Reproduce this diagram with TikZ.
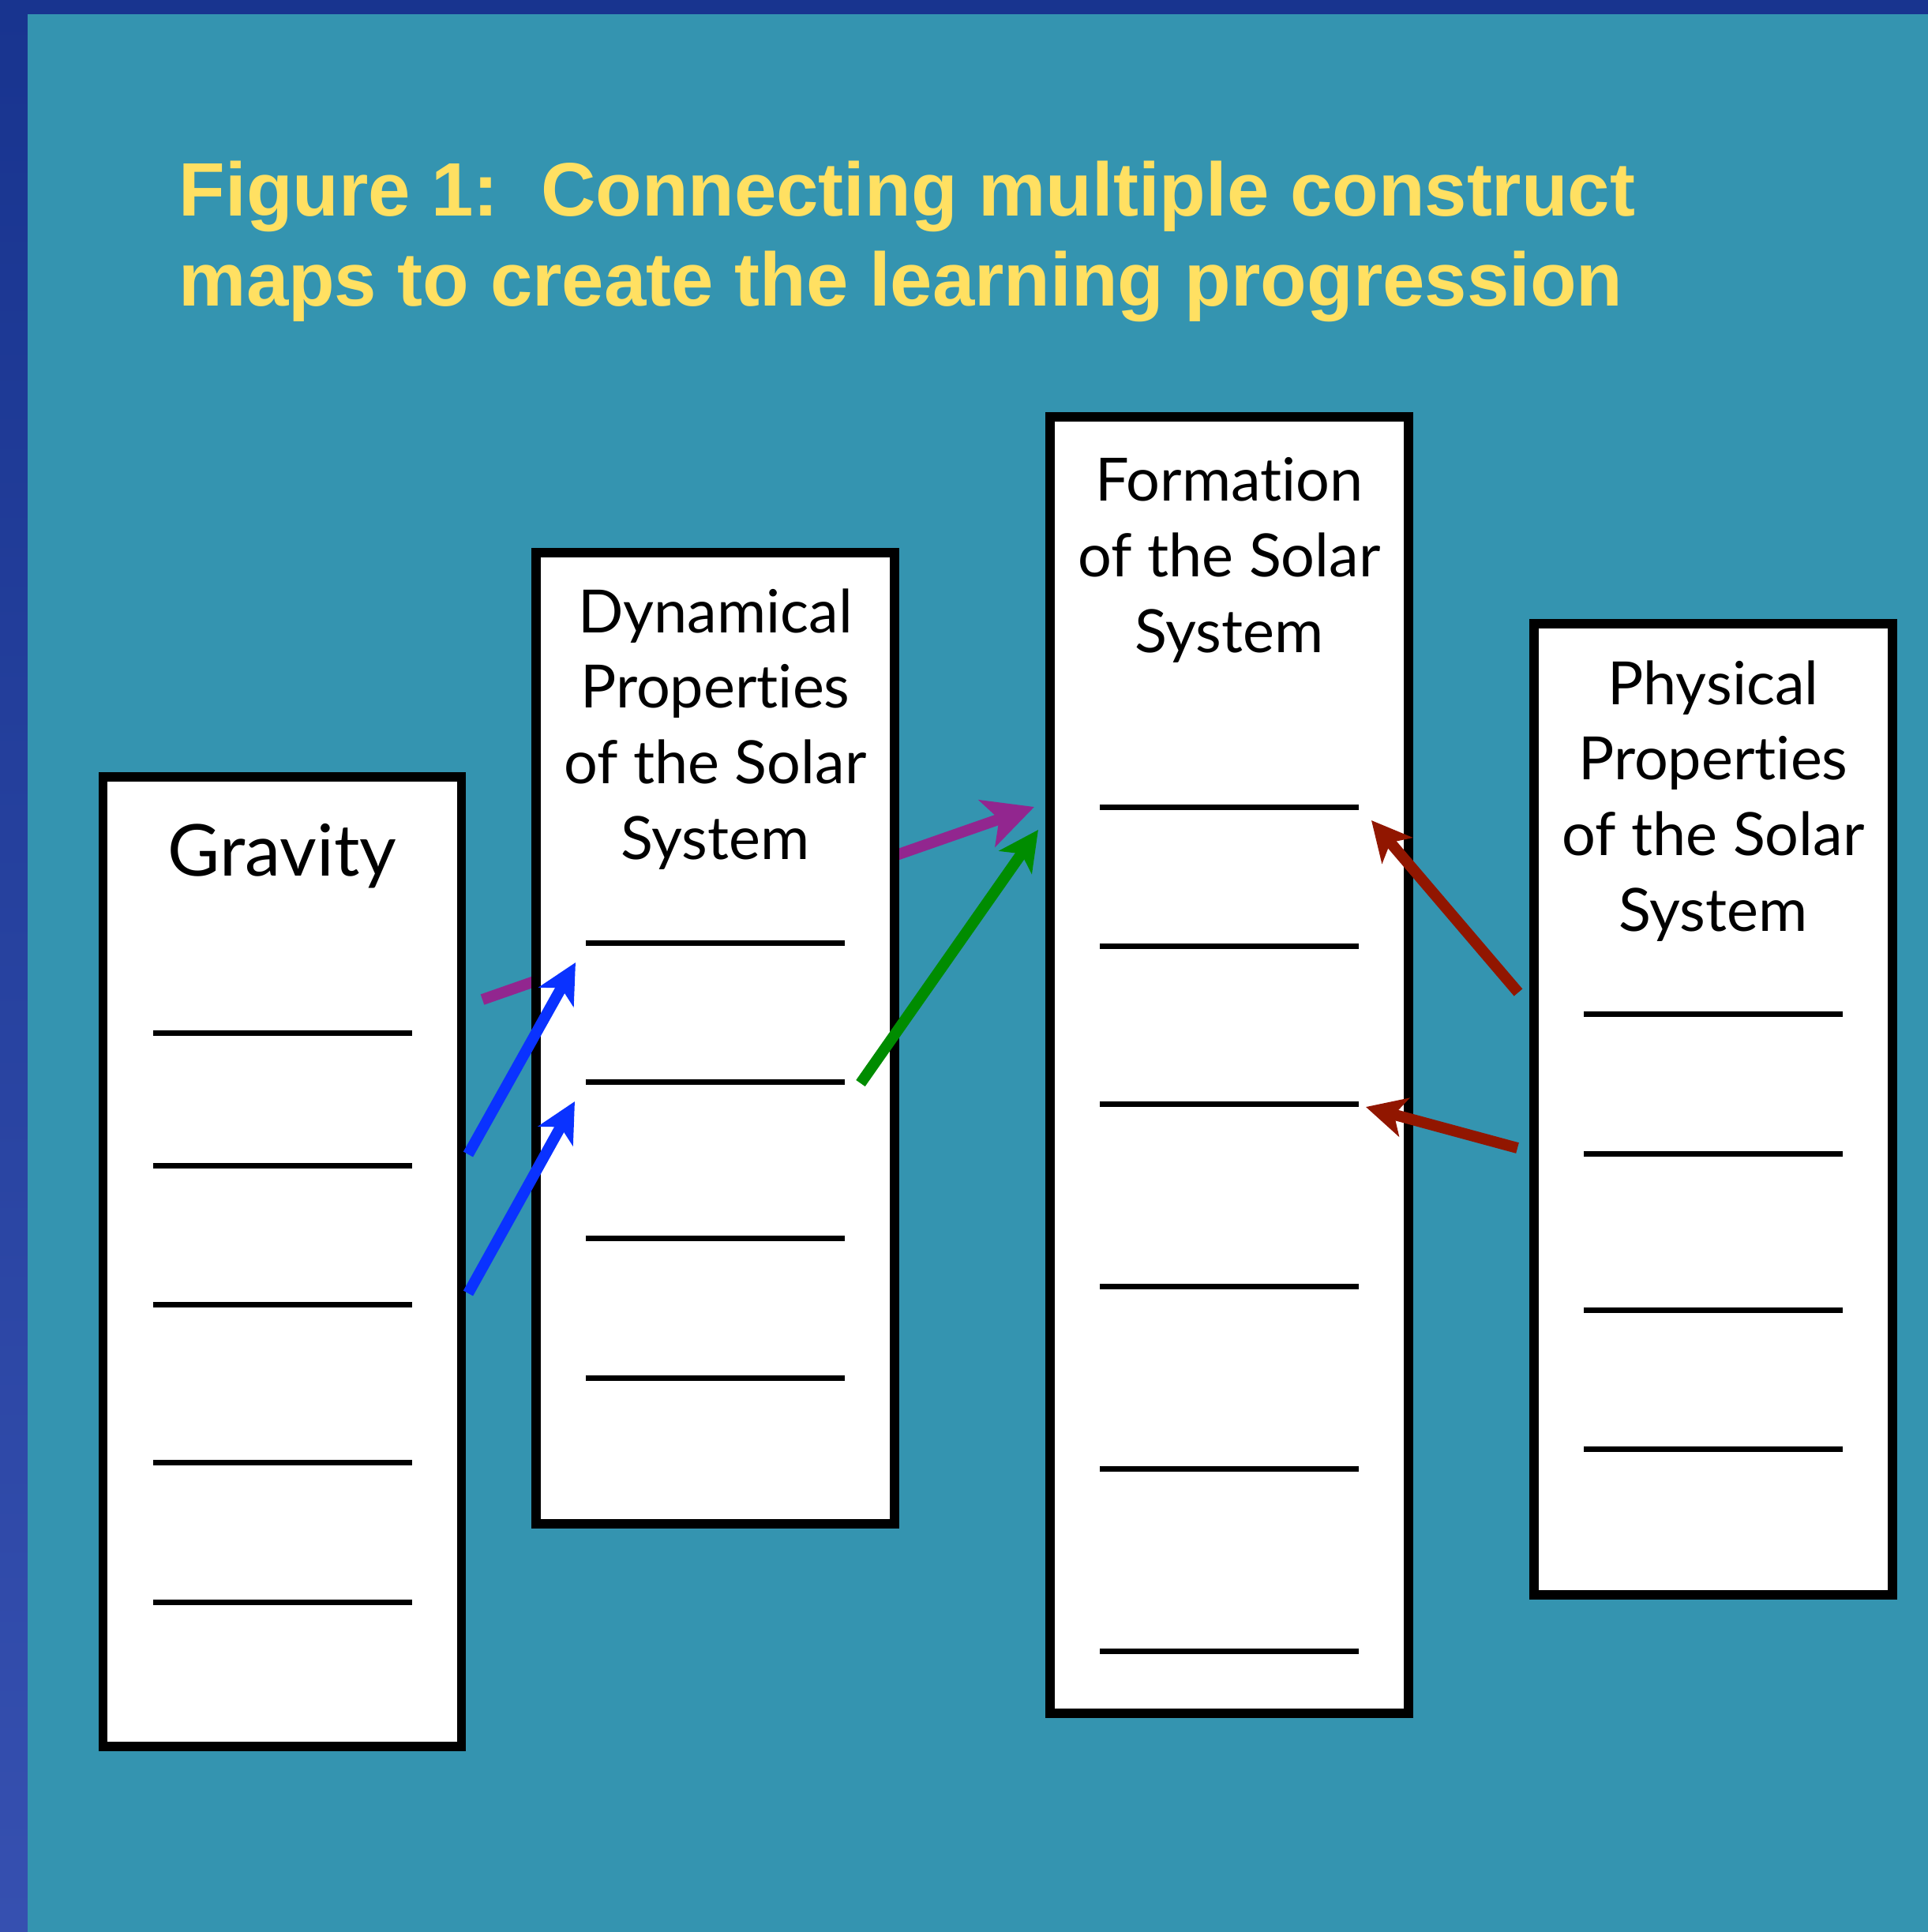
\documentclass[tikz,border=0pt]{standalone}
\usepackage{fontspec}
\usepackage{tikz}
\usetikzlibrary{positioning,arrows.meta}

\newfontfamily\mapfont{Lato}[Ligatures=NoCommon]
\newfontfamily\headfont{Liberation Sans}

\definecolor{panelteal}{RGB}{52,148,176}
\definecolor{frametop}{RGB}{24,52,143}
\definecolor{framebot}{RGB}{54,80,176}
\definecolor{headyellow}{RGB}{255,224,98}
\definecolor{linkblue}{RGB}{10,50,255}
\definecolor{linkpurple}{RGB}{146,38,143}
\definecolor{linkgreen}{RGB}{0,140,0}
\definecolor{linkred}{RGB}{145,22,0}

\tikzset{
  cmap/.style={draw=black, fill=white, line width=0.115cm, minimum width=4.54cm,
    inner sep=0pt, outer sep=0pt},
  cmaptitle/.style={inner sep=0pt, align=center,
    font=\mapfont\fontsize{21.5}{27.2}\selectfont},
  level/.style={line width=0.07cm},
  link/.style={line width=0.14cm, -{Stealth[length=0.5cm,width=0.5cm,inset=0.13cm]}},
}

\begin{document}
\begin{tikzpicture}
  % slide frame and textured panel
  \fill[top color=frametop, bottom color=framebot] (0,0) rectangle (24.42,-24.47);
  \fill[frametop] (0,0) rectangle (24.42,-0.18);
  \fill[panelteal] (0.35,-0.18) rectangle (24.42,-24.47);
  \useasboundingbox (0,0) rectangle (24.42,-24.47);

  \node[anchor=north west, inner sep=0pt, align=left, text=headyellow,
    font=\headfont\bfseries\fontsize{27.3}{32.4}\selectfont] (heading) at (2.26,-2.03)
    {Figure 1:\ \ Connecting multiple construct\\maps to create the learning progression};

  % link end points
  \coordinate (grav-out0) at (6.11,-12.66);
  \coordinate (grav-out1) at (5.93,-14.62);
  \coordinate (grav-out2) at (5.93,-16.38);
  \coordinate (dyn-in1) at (7.29,-12.19);
  \coordinate (dyn-in2) at (7.28,-13.95);
  \coordinate (dyn-out) at (10.90,-13.72);
  \coordinate (form-in1) at (13.10,-10.22);
  \coordinate (form-in2) at (13.15,-10.51);
  \coordinate (form-in3) at (17.37,-10.39);
  \coordinate (form-in4) at (17.30,-14.02);
  \coordinate (phys-out1) at (19.23,-12.57);
  \coordinate (phys-out2) at (19.22,-14.54);

  % gravity -> formation goes behind the dynamical map
  \draw[link, linkpurple, -{Stealth[length=0.63cm,width=0.62cm,inset=0.16cm]}]
    (grav-out0) -- (form-in1);

  % the four construct maps
  \node[cmap, minimum height=12.28cm] (gravity) at (3.575,-15.98) {};
  \node[cmap, minimum height=12.30cm] (dynamical) at (9.06,-13.15) {};
  \node[cmap, minimum height=16.42cm] (formation) at (15.57,-13.49) {};
  \node[cmap, minimum height=12.30cm] (physical) at (21.70,-14.05) {};

  \node[cmaptitle, font=\mapfont\fontsize{25.8}{31}\selectfont,
    below=0.59cm of gravity.north] (gravity-t) {Gravity};
  \node[cmaptitle, below=0.45cm of dynamical.north] (dynamical-t)
    {Dynamical\\Properties\\of the Solar\\System};
  \node[cmaptitle, below=0.51cm of formation.north] (formation-t)
    {Formation\\of the Solar\\System};
  \node[cmaptitle, below=0.46cm of physical.north] (physical-t)
    {Physical\\Properties\\of the Solar\\System};

  % levels of each map
  \foreach \d in {3.24,4.92,6.68,8.68,10.45}
    \draw[level] ([xshift=-1.64cm,yshift=-\d cm]gravity.north) -- ++(3.28,0);
  \foreach \d in {4.94,6.70,8.68,10.45}
    \draw[level] ([xshift=-1.64cm,yshift=-\d cm]dynamical.north) -- ++(3.28,0);
  \foreach \d in {4.94,6.70,8.70,11.01,13.32,15.63}
    \draw[level] ([xshift=-1.64cm,yshift=-\d cm]formation.north) -- ++(3.28,0);
  \foreach \d in {4.94,6.71,8.69,10.45}
    \draw[level] ([xshift=-1.64cm,yshift=-\d cm]physical.north) -- ++(3.28,0);

  % links between levels
  \draw[link, linkblue] (grav-out1) -- (dyn-in1);
  \draw[link, linkblue] (grav-out2) -- (dyn-in2);
  \draw[link, linkgreen] (dyn-out) -- (form-in2);
  \draw[link, linkred] (phys-out1) -- (form-in3);
  \draw[link, linkred] (phys-out2) -- (form-in4);
\end{tikzpicture}
\end{document}
